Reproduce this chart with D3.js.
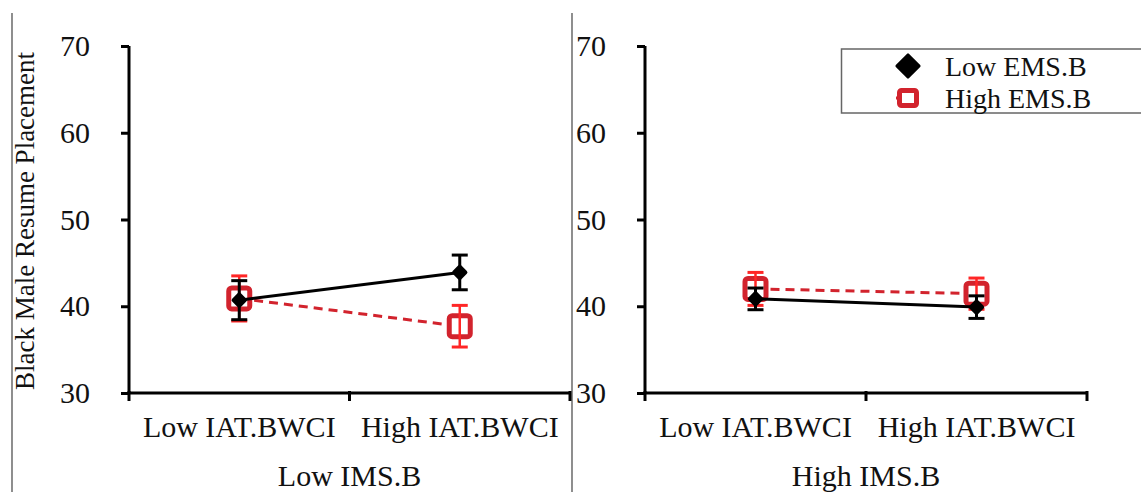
<!DOCTYPE html>
<html>
<head>
<meta charset="utf-8">
<script src="https://cdn.jsdelivr.net/npm/d3@7"></script>
<style>
  html, body { margin: 0; padding: 0; background: #fff; }
  svg, svg text { font-family: "Liberation Serif", "DejaVu Serif", serif; }
</style>
</head>
<body>
<div id="chart"></div>
<script>
// 2 パネルの交互作用プロット（平均値 ± 誤差）
var PANELS = ['Low IMS.B', 'High IMS.B'];
var CATEGORIES = ['Low IAT.BWCI', 'High IAT.BWCI'];
var SERIES = ['Low EMS.B', 'High EMS.B'];
var Y_TICKS = [30, 40, 50, 60, 70];
var Y_TITLE = 'Black Male Resume Placement';

// [パネル][カテゴリ]
var LOW_EMS_MEAN = [[40.7, 43.9], [40.85, 39.9]];
var LOW_EMS_ERR = [[2.25, 2.0], [1.25, 1.3]];
var HIGH_EMS_MEAN = [[40.9, 37.7], [42.0, 41.45]];
var HIGH_EMS_ERR = [[2.6, 2.4], [1.9, 1.8]];

var W = 1141, H = 492;
var SERIF = '"Liberation Serif", serif';
var svg = d3.select('#chart').append('svg')
    .attr('width', W).attr('height', H).attr('viewBox', '0 0 ' + W + ' ' + H);

var y = d3.scaleLinear().domain([30, 70]).range([393, 46]);
var panelRange = [[129, 570], [645, 1087]];
var RED = '#d2232d', RED_ERR = '#ff2626';

// 枠線
[12, 572].forEach(function (fx) {
    svg.append('line').attr('x1', fx).attr('x2', fx).attr('y1', 13).attr('y2', H)
        .attr('stroke', '#444').attr('stroke-width', 1.2);
});

svg.append('text')
    .attr('transform', 'translate(34,221) rotate(-90)')
    .attr('text-anchor', 'middle').attr('font-size', 27).attr('fill', '#111')
    .text(Y_TITLE);

PANELS.forEach(function (panel, p) {
    var x = d3.scaleBand().domain(CATEGORIES).range(panelRange[p]).padding(0);
    var cx = function (c) { return x(c) + x.bandwidth() / 2; };
    var g = svg.append('g');

    // y 軸
    var ya = g.append('g').attr('transform', 'translate(' + panelRange[p][0] + ',0)')
        .call(d3.axisLeft(y).tickValues(Y_TICKS).tickSize(8).tickPadding(31))
        .attr('font-family', null).style('font-family', SERIF);
    ya.select('.domain').attr('stroke', '#000').attr('stroke-width', 3)
        .attr('d', 'M0,' + y(70) + 'V' + y(30));
    ya.selectAll('.tick line').attr('stroke', '#000').attr('stroke-width', 3);
    ya.selectAll('.tick text').attr('font-size', 30).attr('fill', '#111')
        .style('font-family', SERIF);

    // x 軸
    var xa = g.append('g').attr('transform', 'translate(0,' + y(30) + ')')
        .call(d3.axisBottom(x).tickSize(0).tickPadding(0))
        .attr('font-family', null).style('font-family', SERIF);
    xa.select('.domain').attr('stroke', '#000').attr('stroke-width', 3)
        .attr('d', 'M' + panelRange[p][0] + ',0H' + panelRange[p][1]);
    xa.selectAll('.tick text').attr('font-size', 30).attr('fill', '#111')
        .style('font-family', SERIF).attr('dy', 0).attr('y', 44);
    var edges = [panelRange[p][0], x(CATEGORIES[1]), panelRange[p][1]];
    edges.forEach(function (ex) {
        g.append('line').attr('x1', ex).attr('x2', ex).attr('y1', y(30) - 2).attr('y2', y(30) + 8)
            .attr('stroke', '#000').attr('stroke-width', 3);
    });

    g.append('text').attr('x', x(CATEGORIES[1])).attr('y', 486)
        .attr('text-anchor', 'middle').attr('font-size', 30).attr('fill', '#111')
        .text(panel);

    var line = d3.line().x(function (d) { return cx(d.c); }).y(function (d) { return y(d.v); });

    // High EMS.B（赤・破線・白抜き四角）
    var hi = CATEGORIES.map(function (c, i) {
        return { c: c, v: HIGH_EMS_MEAN[p][i], e: HIGH_EMS_ERR[p][i] };
    });
    g.append('path').datum(hi).attr('d', line).attr('fill', 'none')
        .attr('stroke', RED).attr('stroke-width', 3).attr('stroke-dasharray', '9,6');
    hi.forEach(function (d) {
        g.append('rect').attr('x', cx(d.c) - 10.5).attr('y', y(d.v) - 10.5)
            .attr('width', 21).attr('height', 21).attr('rx', 3)
            .attr('fill', '#fff').attr('stroke', RED).attr('stroke-width', 5);
        g.append('line').attr('x1', cx(d.c)).attr('x2', cx(d.c))
            .attr('y1', y(d.v + d.e)).attr('y2', y(d.v - d.e))
            .attr('stroke', RED_ERR).attr('stroke-width', 2.5);
        [d.v + d.e, d.v - d.e].forEach(function (v) {
            g.append('line').attr('x1', cx(d.c) - 8).attr('x2', cx(d.c) + 8)
                .attr('y1', y(v)).attr('y2', y(v)).attr('stroke', RED_ERR).attr('stroke-width', 3);
        });
    });

    // Low EMS.B（黒・実線・菱形）
    var lo = CATEGORIES.map(function (c, i) {
        return { c: c, v: LOW_EMS_MEAN[p][i], e: LOW_EMS_ERR[p][i] };
    });
    g.append('path').datum(lo).attr('d', line).attr('fill', 'none')
        .attr('stroke', '#000').attr('stroke-width', 3);
    lo.forEach(function (d) {
        g.append('line').attr('x1', cx(d.c)).attr('x2', cx(d.c))
            .attr('y1', y(d.v + d.e)).attr('y2', y(d.v - d.e))
            .attr('stroke', '#000').attr('stroke-width', 3);
        [d.v + d.e, d.v - d.e].forEach(function (v) {
            g.append('line').attr('x1', cx(d.c) - 8).attr('x2', cx(d.c) + 8)
                .attr('y1', y(v)).attr('y2', y(v)).attr('stroke', '#000').attr('stroke-width', 3);
        });
        g.append('path').attr('transform', 'translate(' + cx(d.c) + ',' + y(d.v) + ') rotate(45)')
            .attr('d', 'M-4,-4H4V4H-4Z').attr('fill', '#000')
            .attr('stroke', '#000').attr('stroke-width', 4).attr('stroke-linejoin', 'round');
    });
});

// 凡例
var lg = svg.append('g');
lg.append('rect').attr('x', 841.5).attr('y', 49).attr('width', 320).attr('height', 64)
    .attr('fill', '#fff').attr('stroke', '#666').attr('stroke-width', 1.5);
SERIES.forEach(function (s, i) {
    var ly = 66 + i * 32;
    if (i === 0) {
        lg.append('path').attr('transform', 'translate(908,' + ly + ') rotate(45)')
            .attr('d', 'M-8,-8H8V8H-8Z').attr('fill', '#000')
            .attr('stroke', '#000').attr('stroke-width', 2.5).attr('stroke-linejoin', 'round');
    } else {
        lg.append('line').attr('x1', 896).attr('x2', 902).attr('y1', ly).attr('y2', ly)
            .attr('stroke', RED).attr('stroke-width', 3);
        lg.append('rect').attr('x', 908 - 8.5).attr('y', ly - 7.5).attr('width', 17).attr('height', 15)
            .attr('rx', 2).attr('fill', '#fff').attr('stroke', RED).attr('stroke-width', 5);
    }
    lg.append('text').attr('x', 945).attr('y', ly + 10).attr('font-size', 28).attr('fill', '#111')
        .text(s);
});
</script>
</body>
</html>
